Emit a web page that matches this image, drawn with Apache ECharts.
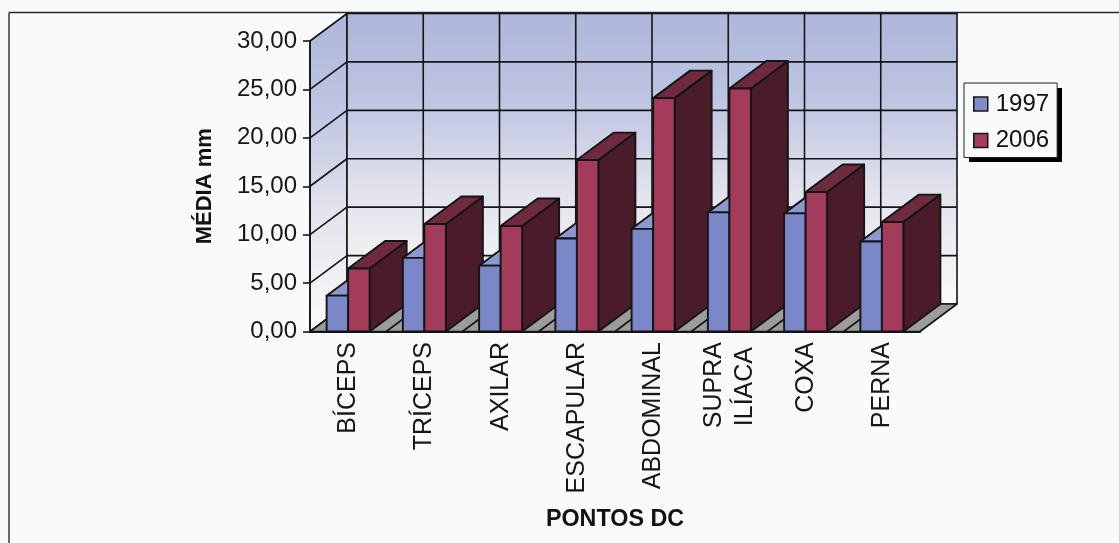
<!DOCTYPE html>
<html>
<head>
<meta charset="utf-8">
<style>html,body{margin:0;padding:0;background:#f8fafc}#chart{width:1119px;height:543px}</style>
<script src="https://cdn.jsdelivr.net/npm/echarts@6/dist/echarts.min.js"></script>
</head>
<body>
<div id="chart"></div>
<script>
// Skinfold means by measuring site, 1997 vs 2006
const categories = ['BÍCEPS', 'TRÍCEPS', 'AXILAR', 'ESCAPULAR', 'ABDOMINAL', 'SUPRA\nILÍACA\u2009', 'COXA', 'PERNA'];
const values1997 = [3.7, 7.6, 6.8, 9.6, 10.6, 12.3, 12.2, 9.3];
const values2006 = [6.5, 11.1, 10.9, 17.7, 24.1, 25.1, 14.4, 11.3];

// Oblique projection of the box, in pixels
const DEPTH_X = 37;
const DEPTH_Y = -27.5;
const BAR_FRACTION = 0.282;
const LINE = '#141414';

const poly = (points, fill, z2, lineWidth) => ({
  type: 'polygon', z2,
  shape: { points },
  style: { fill, stroke: LINE, lineWidth: lineWidth === undefined ? 1.9 : lineWidth, lineJoin: 'round' }
});
const seg = (a, b, z2) => ({
  type: 'line', z2,
  shape: { x1: a[0], y1: a[1], x2: b[0], y2: b[1] },
  style: { stroke: LINE, lineWidth: 1.6 }
});
const back = p => [p[0] + DEPTH_X, p[1] + DEPTH_Y];

const wallFill = {
  type: 'linear', x: 0, y: 0, x2: 0, y2: 1,
  colorStops: [
    { offset: 0, color: '#aeb6da' },
    { offset: 0.3, color: '#bec5e2' },
    { offset: 0.62, color: '#e2e3ec' },
    { offset: 1, color: '#fbfbfb' }
  ]
};

// Side wall, back wall, floor and their grid lines
function renderBox(params, api) {
  const band = api.size([1, 0])[0];
  const n = categories.length;
  const x0 = api.coord([0, 0])[0] - band / 2;
  const x1 = x0 + band * n;
  const y0 = api.coord([0, 0])[1];
  const yTop = api.coord([0, 30])[1];
  const kids = [
    poly([[x0, y0], back([x0, y0]), back([x0, yTop]), [x0, yTop]], wallFill, 0, 1.6),
    poly([back([x0, y0]), back([x1, y0]), back([x1, yTop]), back([x0, yTop])], wallFill, 0, 1.6),
    poly([[x0, y0], [x1, y0], back([x1, y0]), back([x0, y0])], '#9c9c9c', 0, 1.6)
  ];
  for (let v = 5; v <= 25; v += 5) {
    const y = api.coord([0, v])[1];
    kids.push(seg([x0, y], back([x0, y]), 1));
    kids.push(seg(back([x0, y]), back([x1, y]), 1));
  }
  for (let i = 1; i < n; i++) {
    const x = x0 + band * i;
    kids.push(seg(back([x, yTop]), back([x, y0]), 1));
    kids.push(seg([x, y0], back([x, y0]), 1));
  }
  return { type: 'group', children: kids };
}

// One 3D bar; elements are ordered by category so nearer columns overlap earlier sides
function makeBar(seriesIndex, front, top, side) {
  return function (params, api) {
    const cat = api.value(0);
    const base = api.coord([cat, 0]);
    const head = api.coord([cat, api.value(1)]);
    const w = api.size([1, 0])[0] * BAR_FRACTION;
    const l = base[0] + (seriesIndex === 0 ? -w : 0);
    const r = l + w;
    const z = 10 + cat * 10 + seriesIndex;
    return {
      type: 'group',
      children: [
        poly([[r, base[1]], back([r, base[1]]), back([r, head[1]]), [r, head[1]]], side, z),
        poly([[l, head[1]], [r, head[1]], back([r, head[1]]), back([l, head[1]])], top, z),
        poly([[l, base[1]], [r, base[1]], [r, head[1]], [l, head[1]]], front, z)
      ]
    };
  };
}

const chart = echarts.init(document.getElementById('chart'));
chart.setOption({
  backgroundColor: '#f8fafc',
  animation: false,
  textStyle: { fontFamily: '"Liberation Sans", Arial, sans-serif' },
  graphic: [
    { type: 'line', silent: true, shape: { x1: 9, y1: 12.5, x2: 1119, y2: 12.5 }, style: { stroke: '#2b2b2b', lineWidth: 1.5 } },
    { type: 'line', silent: true, shape: { x1: 9, y1: 12.5, x2: 9, y2: 543 }, style: { stroke: '#3a3a3a', lineWidth: 1.5 } },
    // Hard drop shadow behind the legend box
    { type: 'rect', silent: true, z: 1, shape: { x: 969, y: 88, width: 93, height: 74 }, style: { fill: '#000' } }
  ],
  legend: {
    orient: 'vertical',
    left: 964, top: 83,
    padding: [9, 8, 5, 9],
    itemGap: 12.5,
    itemWidth: 14, itemHeight: 14,
    icon: 'rect',
    data: ['1997', '2006'],
    backgroundColor: '#f8fafc',
    borderColor: '#222', borderWidth: 1,
    textStyle: { fontSize: 24, color: '#111', padding: [0, 0, 0, 3] },
    itemStyle: { borderColor: '#141414', borderWidth: 1.5 }
  },
  grid: { left: 310, right: 199, top: 41, bottom: 211.5, outerBoundsMode: 'none' },
  xAxis: {
    type: 'category',
    data: categories,
    z: 5,
    name: 'PONTOS DC',
    nameLocation: 'middle',
    nameGap: 177,
    nameTextStyle: { fontSize: 23.3, fontWeight: 'bold', color: '#111' },
    axisLine: { lineStyle: { color: LINE, width: 2 } },
    axisTick: { show: false },
    axisLabel: { rotate: 90, interval: 0, margin: 10.5, fontSize: 25, lineHeight: 31, color: '#161616' }
  },
  yAxis: {
    type: 'value',
    min: 0, max: 30, interval: 5,
    z: 5,
    name: 'MÉDIA mm',
    nameLocation: 'middle',
    nameGap: 94,
    nameTextStyle: { fontSize: 22, fontWeight: 'bold', color: '#111' },
    axisLine: { show: true, lineStyle: { color: LINE, width: 1.6 } },
    axisTick: { show: true, length: 7, lineStyle: { color: LINE, width: 1.6 } },
    splitLine: { show: false },
    axisLabel: {
      margin: 13, fontSize: 24, color: '#161616',
      formatter: v => v.toFixed(2).replace('.', ',')
    }
  },
  series: [
    { type: 'custom', name: 'box', z: 1, silent: true, clip: false, data: [[0, 0]], encode: { x: 0, y: 1 }, renderItem: renderBox },
    {
      type: 'custom', name: '1997', z: 2, clip: false,
      itemStyle: { color: '#7f8ccb' },
      encode: { x: 0, y: 1 },
      data: values1997.map((v, i) => [i, v]),
      renderItem: makeBar(0, '#7a87c9', '#8c98d2', '#4d5590')
    },
    {
      type: 'custom', name: '2006', z: 2, clip: false,
      itemStyle: { color: '#a33c5a' },
      encode: { x: 0, y: 1 },
      data: values2006.map((v, i) => [i, v]),
      renderItem: makeBar(1, '#a23c5a', '#6f2a40', '#4a1c2a')
    }
  ]
});
</script>
</body>
</html>
